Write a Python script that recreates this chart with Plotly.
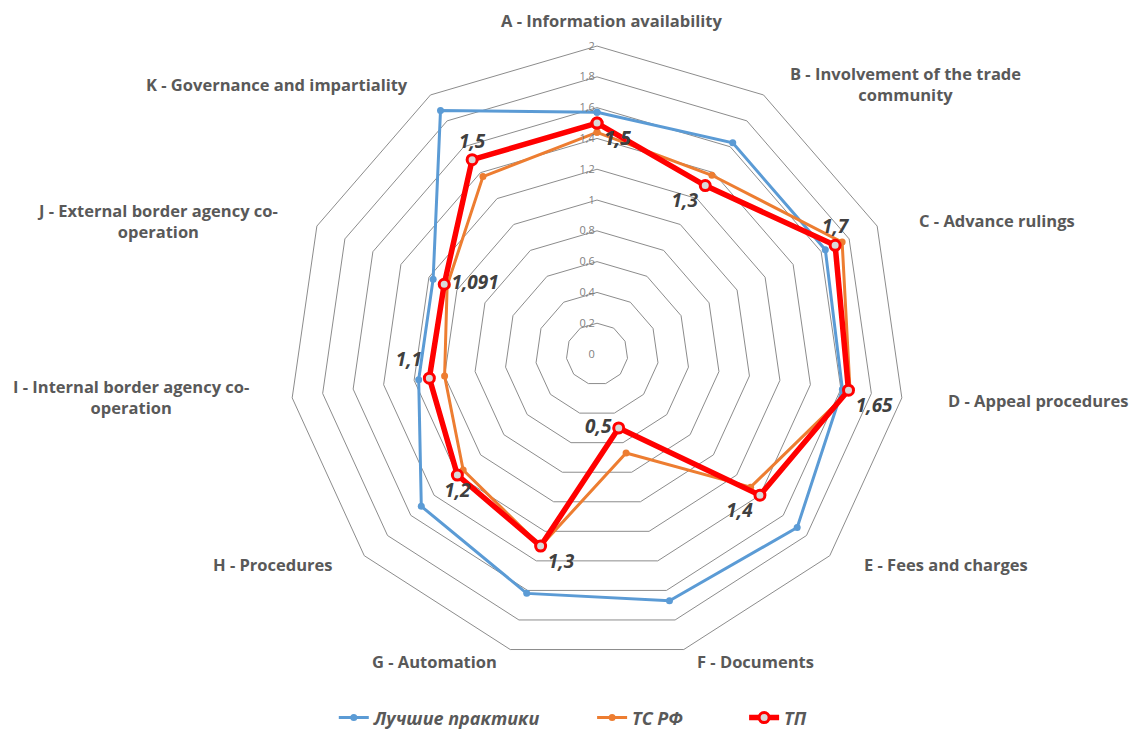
import plotly.graph_objects as go

categories = [
    "A - Information availability",
    "B - Involvement of the trade<br>community",
    "C - Advance rulings",
    "D - Appeal procedures",
    "E - Fees and charges",
    "F - Documents",
    "G - Automation",
    "H - Procedures",
    "I - Internal border agency co-<br>operation",
    "J - External border agency co-<br>operation",
    "K - Governance and impartiality",
]
codes = ["A", "B", "C", "D", "E", "F", "G", "H", "I", "J", "K"]

best_practices = [1.57, 1.63, 1.63, 1.61, 1.72, 1.67, 1.62, 1.51, 1.17, 1.17, 1.88]
ts_rf = [1.44, 1.38, 1.75, 1.66, 1.32, 0.67, 1.30, 1.15, 1.00, 1.07, 1.37]
tp = [1.5, 1.3, 1.7, 1.65, 1.4, 0.5, 1.3, 1.2, 1.1, 1.091, 1.5]

series_names = ["Лучшие практики", "ТС РФ", "ТП"]

tp_text = [str(v).replace(".", ",") for v in tp]
tp_textpos = ["bottom right", "bottom left", "top center", "bottom right", "bottom left",
              "middle left", "bottom right", "bottom center", "top left", "middle right", "top center"]

def closed(lst):
    return list(lst) + [lst[0]]

fig = go.Figure()
fig.add_trace(go.Scatterpolar(
    r=closed(best_practices), theta=closed(codes), name=series_names[0] + "\u00a0" * 10,
    mode="lines+markers",
    line=dict(color="#5B9BD5", width=3),
    marker=dict(size=7, color="#5B9BD5"),
))
fig.add_trace(go.Scatterpolar(
    r=closed(ts_rf), theta=closed(codes), name=series_names[1] + "\u00a0" * 12,
    mode="lines+markers",
    line=dict(color="#ED7D31", width=3),
    marker=dict(size=7, color="#ED7D31"),
))
fig.add_trace(go.Scatterpolar(
    r=closed(tp), theta=closed(codes), name=series_names[2],
    mode="lines+markers+text",
    text=closed(tp_text), textposition=closed(tp_textpos),
    textfont=dict(family="Open Sans", size=19, color="#404040", weight="bold", style="italic"),
    line=dict(color="#FF0000", width=5.5),
    marker=dict(size=10, color="#d9d9d9", line=dict(color="#FF0000", width=3)),
))

grid_color = "#8c8c8c"
fig.update_layout(
    width=1132, height=731,
    paper_bgcolor="white", plot_bgcolor="white",
    margin=dict(l=0, r=0, t=0, b=0, autoexpand=False),
    separators=", ",
    showlegend=True,
    legend=dict(orientation="h", x=0.506, xanchor="center", y=0.018, yanchor="middle",
                font=dict(family="Open Sans", size=18, color="#595959", weight="bold", style="italic"),
                itemwidth=30),
    polar=dict(
        domain=dict(x=[0.2553, 0.7995], y=[0.0944, 0.937]),
        bgcolor="white",
        gridshape="linear",
        radialaxis=dict(range=[0, 2], dtick=0.2, angle=90, side="counterclockwise",
                        tickangle=90, showline=False, ticks="",
                        gridcolor=grid_color, gridwidth=1,
                        tickfont=dict(family="Open Sans", size=11, color="#7f7f7f")),
        angularaxis=dict(direction="clockwise", rotation=90, showgrid=False,
                         showline=True, linecolor=grid_color, linewidth=1,
                         showticklabels=False, ticks=""),
    ),
)

label_pos = [
    (0.5406, 0.9726, "center"), (0.7995, 0.885, "center"), (0.8807, 0.6977, "center"),
    (0.999, 0.4528, "right"), (0.8357, 0.2271, "center"), (0.6678, 0.0944, "center"),
    (0.3834, 0.0944, "center"), (0.2412, 0.2271, "center"), (0.1157, 0.457, "center"),
    (0.139, 0.6977, "center"), (0.2447, 0.885, "center"),
]
for cat, (x, y, anc) in zip(categories, label_pos):
    fig.add_annotation(text=cat, x=x, y=y, xref="paper", yref="paper",
                       xanchor=anc, yanchor="middle", showarrow=False,
                       font=dict(family="Open Sans", size=16.5, color="#595959", weight="bold"))

fig.write_html("out.html", config={"displayModeBar": False},
               post_script="document.body.style.margin='0';")
